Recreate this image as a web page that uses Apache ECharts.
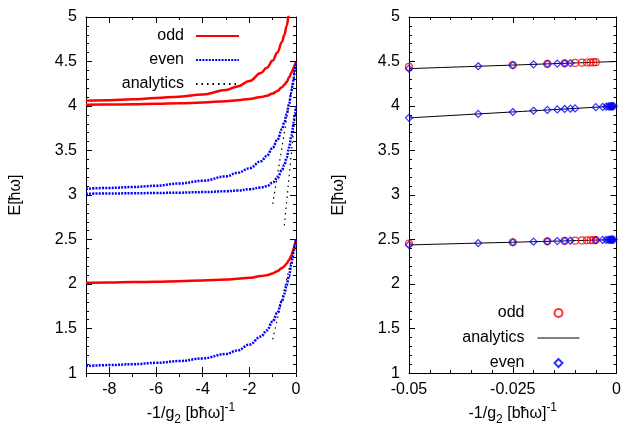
<!DOCTYPE html>
<html><head><meta charset="utf-8">
<script src="https://cdn.jsdelivr.net/npm/echarts@6/dist/echarts.min.js"></script>
<style>html,body{margin:0;padding:0;background:#fff}#c{width:624px;height:431px}</style>
</head><body><div id="c"></div>
<script>
// ---------- data (left panel: energies vs -1/g2) ----------
const leftX      = [-9, -8, -7, -6, -5, -4, -3, -2.5, -2, -1.5, -1.25, -1, -0.8, -0.6, -0.5, -0.4, -0.3, -0.2, -0.15, -0.1, -0.05, 0];
const oddTopX    = [-9, -8, -7, -6, -5, -4, -3, -2.5, -2, -1.5, -1.25, -1, -0.8, -0.6, -0.5, -0.4, -0.3, -0.2];
const oddTopE    = [4.06, 4.065, 4.075, 4.09, 4.105, 4.13, 4.18, 4.22, 4.28, 4.37, 4.43, 4.51, 4.60, 4.72, 4.80, 4.90, 5.03, 5.2];
const oddMidE    = [4.015, 4.017, 4.02, 4.025, 4.03, 4.04, 4.055, 4.065, 4.08, 4.10, 4.115, 4.14, 4.17, 4.21, 4.24, 4.27, 4.32, 4.37, 4.40, 4.43, 4.465, 4.5];
const oddLowE    = [2.015, 2.018, 2.022, 2.027, 2.033, 2.04, 2.05, 2.06, 2.07, 2.09, 2.10, 2.12, 2.145, 2.18, 2.2, 2.23, 2.27, 2.32, 2.36, 2.40, 2.45, 2.5];
const evenTopE   = [3.07, 3.08, 3.09, 3.105, 3.13, 3.16, 3.21, 3.25, 3.30, 3.38, 3.44, 3.53, 3.62, 3.74, 3.82, 3.91, 4.02, 4.15, 4.23, 4.31, 4.41, 4.5];
const evenMidE   = [3.015, 3.017, 3.02, 3.023, 3.027, 3.033, 3.043, 3.05, 3.065, 3.085, 3.10, 3.14, 3.19, 3.28, 3.34, 3.42, 3.53, 3.66, 3.74, 3.82, 3.91, 4.0];
const evenLowE   = [1.08, 1.09, 1.10, 1.115, 1.135, 1.165, 1.215, 1.255, 1.32, 1.41, 1.48, 1.58, 1.68, 1.81, 1.89, 1.99, 2.09, 2.22, 2.29, 2.36, 2.43, 2.5];
// analytic (strong-coupling) lines, left panel: endpoints
const anaTopLX = [-1, 0],   anaTopLE = [2.9, 4.5];
const anaMidLX = [-0.5, 0], anaMidLE = [2.66, 4.0];
const anaLowLX = [-1, 0],   anaLowLE = [1.38, 2.5];

// ---------- data (right panel: zoom near -1/g2 = 0) ----------
const anaRX = [-0.05, 0];
const anaTopRE = [4.42, 4.5];
const anaMidRE = [3.867, 4.0];
const anaLowRE = [2.44, 2.5];
const oddRX    = [-0.05, -0.025, -0.01667, -0.0125, -0.01, -0.00833, -0.00714, -0.00625, -0.00556, -0.005];
const oddRTopE = [4.44, 4.46, 4.473, 4.48, 4.484, 4.487, 4.489, 4.49, 4.491, 4.492];
const oddRLowE = [2.455, 2.47, 2.48, 2.485, 2.488, 2.49, 2.491, 2.492, 2.493, 2.494];
const evenRTopX = [-0.05, -0.03333, -0.025, -0.02, -0.01667, -0.01429, -0.0125, -0.01111];
const evenRTopE = [4.42, 4.447, 4.46, 4.468, 4.473, 4.477, 4.48, 4.482];
const evenRMidX = [-0.05, -0.03333, -0.025, -0.02, -0.01667, -0.01429, -0.0125, -0.01111, -0.01, -0.005, -0.00333, -0.0025, -0.002, -0.00167, -0.00143, -0.00125, -0.00111, -0.001, -0.00067];
const evenRMidE = [3.867, 3.911, 3.933, 3.947, 3.956, 3.962, 3.967, 3.97, 3.973, 3.987, 3.991, 3.993, 3.995, 3.996, 3.996, 3.997, 3.997, 3.997, 3.998];
const evenRLowX = [-0.05, -0.03333, -0.025, -0.02, -0.01667, -0.01429, -0.0125, -0.01111, -0.005, -0.00333, -0.0025, -0.002, -0.00167, -0.00143, -0.00125, -0.00111, -0.001, -0.00067];
const evenRLowE = [2.44, 2.46, 2.47, 2.476, 2.48, 2.483, 2.485, 2.487, 2.494, 2.496, 2.497, 2.4975, 2.498, 2.498, 2.4985, 2.4985, 2.499, 2.499];

// ---------- ticks ----------
const leftXLabels = [-8, -6, -4, -2, 0];

const FONT = 'Liberation Sans, Arial, Helvetica, sans-serif';
const pairs = (xs, ys) => xs.map((x, i) => [x, ys[i]]);

const RED = '#ff0000', BLUE = '#0000ff', BLACK = '#000000';
const NOFILL = 'rgba(0,0,0,0)';
const oddLine  = { color: RED, width: 2.5, type: 'solid' };
const evenLine = { color: BLUE, width: 2.5, type: [2, 1.2] };
const anaLine  = { color: BLACK, width: 1.2, type: [1.5, 4] };
const anaRLine = { color: BLACK, width: 1, type: 'solid' };
const DIAMOND = 'path://M5,0L10,5L5,10L0,5Z';

function lineSeries(name, data, ls, xi, yi, z) {
  return {
    type: 'line', name, data, xAxisIndex: xi, yAxisIndex: yi,
    showSymbol: false, symbol: 'none', smooth: 0.4, smoothMonotone: 'x',
    lineStyle: ls, itemStyle: { color: ls.color }, clip: true, z: z || 2,
    emphasis: { disabled: true }, silent: true
  };
}
function scatterSeries(name, data, color, symbol, z) {
  return {
    type: 'scatter', name, data, xAxisIndex: 2, yAxisIndex: 2,
    symbol, symbolSize: 7, z: z || 3,
    itemStyle: { color: NOFILL, borderColor: color, borderWidth: 1.2 },
    emphasis: { disabled: true }, silent: true
  };
}

const tickLabel = { color: BLACK, fontSize: 16, fontFamily: FONT };
const axLine = { show: true, onZero: false, lineStyle: { color: BLACK, width: 1 } };

function yAx(grid, pos, labels, name) {
  return {
    type: 'value', gridIndex: grid, position: pos, min: 1, max: 5, interval: 0.5,
    axisLine: axLine,
    axisTick: { show: true, inside: true, length: 6, lineStyle: { color: BLACK } },
    minorTick: { show: true, splitNumber: 5, length: 3, lineStyle: { color: BLACK } },
    axisLabel: labels ? Object.assign({ margin: 9 }, tickLabel) : { show: false },
    splitLine: { show: false },
    name: name || '', nameLocation: 'middle', nameGap: 62,
    nameTextStyle: { color: BLACK, fontSize: 16, fontFamily: FONT }
  };
}
const xName = '-1/g{sub|2} [bħω]{sup|-1}';
const xNameStyle = {
  color: BLACK, fontSize: 16, fontFamily: FONT, lineHeight: 24,
  rich: {
    sub: { fontSize: 12, fontFamily: FONT, verticalAlign: 'bottom', lineHeight: 24, color: BLACK },
    sup: { fontSize: 12, fontFamily: FONT, verticalAlign: 'top', lineHeight: 24, color: BLACK }
  }
};

const option = {
  animation: false,
  backgroundColor: '#ffffff',
  grid: [
    { left: 86, top: 17, width: 210, height: 360 },
    { left: 409, top: 17, width: 209, height: 360 },
    { left: 86, top: 17, width: 210, height: 360 }
  ],
  xAxis: [
    { type: 'value', gridIndex: 0, position: 'bottom', min: -9, max: 0, interval: 1,
      axisLine: axLine,
      axisTick: { show: true, inside: true, length: 6, customValues: leftXLabels, lineStyle: { color: BLACK } },
      axisLabel: Object.assign({ margin: 8, customValues: leftXLabels }, tickLabel),
      splitLine: { show: false },
      name: xName, nameLocation: 'middle', nameGap: 13, nameTextStyle: xNameStyle },
    { type: 'value', gridIndex: 0, position: 'top', min: -9, max: 0, interval: 1,
      axisLine: axLine,
      axisTick: { show: true, inside: true, length: 6, customValues: leftXLabels, lineStyle: { color: BLACK } },
      axisLabel: { show: false }, splitLine: { show: false } },
    { type: 'value', gridIndex: 1, position: 'bottom', min: -0.05, max: 0, interval: 0.025,
      axisLine: axLine,
      axisTick: { show: true, inside: true, length: 6, lineStyle: { color: BLACK } },
      minorTick: { show: true, splitNumber: 5, length: 3, lineStyle: { color: BLACK } },
      axisLabel: Object.assign({ margin: 8 }, tickLabel),
      splitLine: { show: false },
      name: xName, nameLocation: 'middle', nameGap: 13, nameTextStyle: xNameStyle },
    { type: 'value', gridIndex: 1, position: 'top', min: -0.05, max: 0, interval: 0.025,
      axisLine: axLine,
      axisTick: { show: true, inside: true, length: 6, lineStyle: { color: BLACK } },
      minorTick: { show: true, splitNumber: 5, length: 3, lineStyle: { color: BLACK } },
      axisLabel: { show: false }, splitLine: { show: false } },
    { type: 'value', gridIndex: 2, position: 'bottom', min: -9, max: 0, interval: 1,
      axisLine: { show: false },
      axisTick: { show: true, inside: true, length: 3, lineStyle: { color: BLACK } },
      axisLabel: { show: false }, splitLine: { show: false } },
    { type: 'value', gridIndex: 2, position: 'top', min: -9, max: 0, interval: 1,
      axisLine: { show: false },
      axisTick: { show: true, inside: true, length: 3, lineStyle: { color: BLACK } },
      axisLabel: { show: false }, splitLine: { show: false } }
  ],
  yAxis: [
    yAx(0, 'left', true, 'E[ħω]'),
    yAx(0, 'right', false),
    yAx(1, 'left', true, 'E[ħω]'),
    yAx(1, 'right', false),
    { type: 'value', gridIndex: 2, min: 1, max: 5, show: false }
  ],
  legend: [
    { data: ['odd', 'even', 'analytics'], orient: 'vertical', align: 'right',
      right: 384, top: 28, itemWidth: 43, itemHeight: 14, itemGap: 8, padding: 0,
      selectedMode: false,
      itemStyle: { color: NOFILL, borderColor: NOFILL, borderWidth: 0 },
      textStyle: { fontSize: 16, color: BLACK, fontFamily: FONT, padding: [0, 7, 0, 0] } },
    { data: [
        { name: 'odd|R' },
        { name: 'analytics|R', itemStyle: { color: NOFILL, borderColor: NOFILL, borderWidth: 0 } },
        { name: 'even|R', icon: DIAMOND }
      ],
      orient: 'vertical', align: 'right', symbolKeepAspect: true,
      formatter: n => n.split('|')[0],
      right: 44, top: 305, itemWidth: 42, itemHeight: 8, itemGap: 9, padding: 0,
      selectedMode: false,
      lineStyle: { width: 1 },
      textStyle: { fontSize: 16, color: BLACK, fontFamily: FONT, padding: [0, 8, 0, 0] } }
  ],
  series: [
    lineSeries('odd', pairs(oddTopX, oddTopE), oddLine, 0, 0, 2),
    lineSeries('odd', pairs(leftX, oddMidE), oddLine, 0, 0, 2),
    lineSeries('odd', pairs(leftX, oddLowE), oddLine, 0, 0, 2),
    lineSeries('even', pairs(leftX, evenTopE), evenLine, 0, 0, 3),
    lineSeries('even', pairs(leftX, evenMidE), evenLine, 0, 0, 3),
    lineSeries('even', pairs(leftX, evenLowE), evenLine, 0, 0, 3),
    lineSeries('analytics', pairs(anaTopLX, anaTopLE), anaLine, 0, 0, 4),
    lineSeries('analytics', pairs(anaMidLX, anaMidLE), anaLine, 0, 0, 4),
    lineSeries('analytics', pairs(anaLowLX, anaLowLE), anaLine, 0, 0, 4),

    lineSeries('analytics|R', pairs(anaRX, anaTopRE), anaRLine, 2, 2, 2),
    lineSeries('analytics|R', pairs(anaRX, anaMidRE), anaRLine, 2, 2, 2),
    lineSeries('analytics|R', pairs(anaRX, anaLowRE), anaRLine, 2, 2, 2),
    scatterSeries('odd|R', pairs(oddRX, oddRTopE), RED, 'circle', 3),
    scatterSeries('odd|R', pairs(oddRX, oddRLowE), RED, 'circle', 3),
    scatterSeries('even|R', pairs(evenRTopX, evenRTopE), BLUE, 'diamond', 4),
    scatterSeries('even|R', pairs(evenRMidX, evenRMidE), BLUE, 'diamond', 4),
    scatterSeries('even|R', pairs(evenRLowX, evenRLowE), BLUE, 'diamond', 4)
  ]
};

const chart = echarts.init(document.getElementById('c'), null, { renderer: 'canvas' });
chart.setOption(option);
</script></body></html>
